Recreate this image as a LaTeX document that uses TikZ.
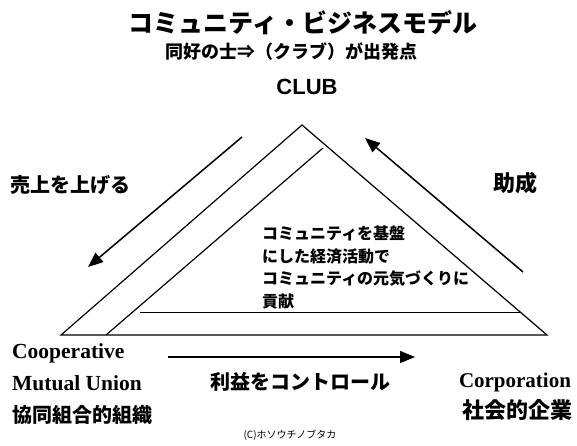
\documentclass[tikz,border=0pt]{standalone}
\usepackage{fontspec}
\usetikzlibrary{arrows.meta}
\newfontfamily\jp{Noto Sans CJK JP}
\newfontfamily\lat{Liberation Serif}
\newfontfamily\ari{Liberation Sans}
\begin{document}
\begin{tikzpicture}[x=1pt,y=-1pt,
  edge/.style={line width=1.2pt,line join=miter},
  flow/.style={line width=1.5pt,-{Triangle[length=15pt,width=12pt]}},
  lbl/.style={inner sep=0pt},
  jpt/.style={lbl,font=\jp\bfseries\fontsize{#1}{#1}\selectfont},
  ent/.style={lbl,font=\lat\bfseries\fontsize{21.5}{21.5}\selectfont,anchor=west}]
\useasboundingbox (0,0) rectangle (577,445);
% triangle corners
\coordinate (apex) at (302,125);
\coordinate (bl) at (61,335);
\coordinate (br) at (547,335);
\coordinate (ib) at (106,335);
\coordinate (it) at (323,148);
\coordinate (hl) at (140,312);
\coordinate (hr) at (520,312);
\draw[edge] (bl) -- (apex) -- (br) -- cycle;
\draw[edge] (ib) -- (it);
\draw[edge,line width=1pt] (hl) -- (hr);
% arrows
\coordinate (a1s) at (242,137);
\coordinate (a1e) at (88,267);
\coordinate (a2s) at (523,272);
\coordinate (a2e) at (365,138);
\coordinate (a3s) at (168,357);
\coordinate (a3e) at (415,357);
\draw[flow] (a1s) -- (a1e);
\draw[flow] (a2s) -- (a2e);
\draw[flow] (a3s) -- (a3e);
% texts
\node[jpt=25] (title) at (303,23) {コミュニティ・ビジネスモデル};
\node[jpt=18] (sub) at (291,52) {同好の士⇒（クラブ）が出発点};
\node[lbl,font=\ari\bfseries\fontsize{22}{22}\selectfont] (club) at (307,87) {CLUB};
\node[jpt=20] (sell) at (70,185) {売上を上げる};
\node[jpt=22] (aid) at (515,183) {助成};
\node[jpt=16,anchor=north west,align=left,font=\jp\bfseries\fontsize{16}{22.5}\selectfont] (inner) at (262,226)
  {コミュニティを基盤\\にした経済活動で\\コミュニティの元気づくりに\\貢献};
\node[ent] (coop) at (12,353) {Cooperative};
\node[ent] (mu) at (12,383) {Mutual Union};
\node[jpt=20,anchor=west] (kyo) at (12,415) {協同組合的組織};
\node[jpt=20] (ctrl) at (300,382) {利益をコントロール};
\node[lbl,font=\lat\bfseries\fontsize{21}{21}\selectfont] (corp) at (515,382) {Corporation};
\node[jpt=22] (soc) at (517,410) {社会的企業};
\node[lbl,font=\jp\fontsize{10}{10}\selectfont] (copy) at (290,435) {(C)ホソウチノブタカ};
\end{tikzpicture}
\end{document}
